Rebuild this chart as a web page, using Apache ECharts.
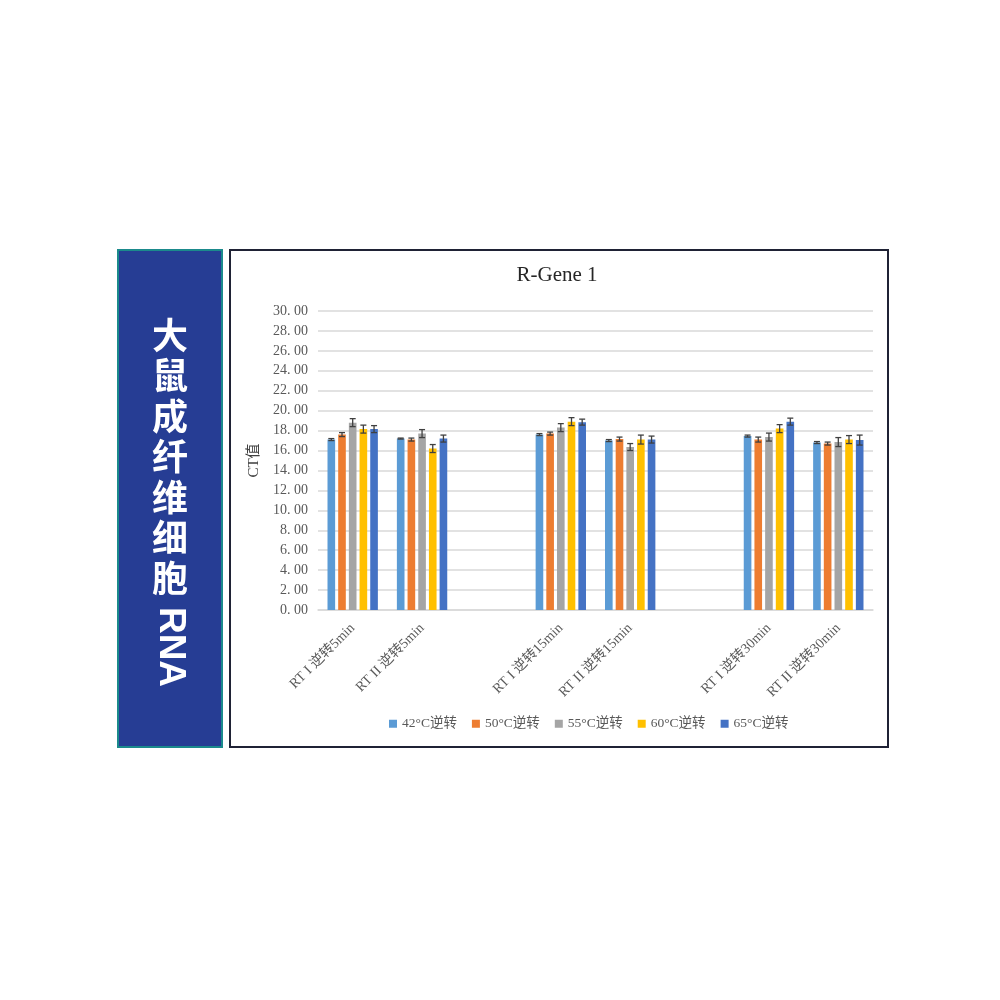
<!DOCTYPE html>
<html>
<head>
<meta charset="utf-8">
<title>R-Gene 1</title>
<script src="https://cdn.jsdelivr.net/npm/echarts@6/dist/echarts.min.js"></script>
<style>
  html, body { margin: 0; padding: 0; background: #fff; }
  #main { width: 1000px; height: 1000px; }
</style>
</head>
<body>
<div id="main"></div>
<script>
// 类别（空字符串用于组间空位）
var categories = ['RT I 逆转5min', 'RT II 逆转5min', '', 'RT I 逆转15min', 'RT II 逆转15min', '', 'RT I 逆转30min', 'RT II 逆转30min'];
var seriesNames = ['42°C逆转', '50°C逆转', '55°C逆转', '60°C逆转', '65°C逆转'];
var colors = ['#5B9BD5', '#ED7D31', '#A5A5A5', '#FFC000', '#4472C4'];

// CT值
var ct42 = [17.10, 17.20, null, 17.60, 17.00, null, 17.45, 16.80];
var ct50 = [17.60, 17.10, null, 17.70, 17.15, null, 17.10, 16.70];
var ct55 = [18.80, 17.70, null, 18.30, 16.35, null, 17.35, 16.85];
var ct60 = [18.15, 16.20, null, 18.90, 17.10, null, 18.20, 17.10];
var ct65 = [18.15, 17.20, null, 18.85, 17.10, null, 18.90, 17.05];

// 误差
var err42 = [0.10, 0.05, null, 0.10, 0.10, null, 0.10, 0.10];
var err50 = [0.20, 0.15, null, 0.15, 0.20, null, 0.25, 0.15];
var err55 = [0.40, 0.40, null, 0.40, 0.35, null, 0.40, 0.45];
var err60 = [0.40, 0.40, null, 0.40, 0.45, null, 0.40, 0.40];
var err65 = [0.35, 0.35, null, 0.30, 0.35, null, 0.35, 0.50];

var yTicks = [0, 2, 4, 6, 8, 10, 12, 14, 16, 18, 20, 22, 24, 26, 28, 30];

var allCt = [ct42, ct50, ct55, ct60, ct65];
var allErr = [err42, err50, err55, err60, err65];

var serifFont = '"Liberation Serif", "Noto Sans CJK SC", serif';
var BAR_W = 0.11;   // 柱宽占类目宽比例
var BAR_GAP = 0.4;  // 柱间距占柱宽比例

// 误差线数据 [类目, 系列序号, 下限, 上限]
var errData = [];
for (var s = 0; s < allCt.length; s++) {
  for (var c = 0; c < categories.length; c++) {
    if (allCt[s][c] == null) continue;
    errData.push([c, s, allCt[s][c] - allErr[s][c], allCt[s][c] + allErr[s][c]]);
  }
}

function renderErr(params, api) {
  var cat = api.value(0);
  var si = api.value(1);
  var lo = api.coord([cat, api.value(2)]);
  var hi = api.coord([cat, api.value(3)]);
  var catW = api.size([1, 0])[0];
  var bw = catW * BAR_W;
  var n = seriesNames.length;
  var total = n * bw + (n - 1) * bw * BAR_GAP;
  var x = lo[0] - total / 2 + bw / 2 + si * bw * (1 + BAR_GAP);
  var cap = 3;
  var style = { stroke: '#404040', lineWidth: 1.3 };
  return {
    type: 'group',
    children: [
      { type: 'line', shape: { x1: x, y1: hi[1], x2: x, y2: lo[1] }, style: style },
      { type: 'line', shape: { x1: x - cap, y1: hi[1], x2: x + cap, y2: hi[1] }, style: style },
      { type: 'line', shape: { x1: x - cap, y1: lo[1], x2: x + cap, y2: lo[1] }, style: style }
    ]
  };
}

var chart = echarts.init(document.getElementById('main'));

var series = [];
for (var i = 0; i < seriesNames.length; i++) {
  series.push({
    name: seriesNames[i],
    type: 'bar',
    data: allCt[i],
    barWidth: (BAR_W * 100) + '%',
    barGap: (BAR_GAP * 100) + '%',
    itemStyle: { color: colors[i] }
  });
}
series.push({
  name: '误差',
  type: 'custom',
  renderItem: renderErr,
  data: errData,
  encode: { x: 0, y: [2, 3] },
  z: 10,
  silent: true
});

var option = {
  animation: false,
  backgroundColor: '#ffffff',
  color: colors,
  graphic: [
    {
      type: 'rect',
      shape: { x: 118, y: 250, width: 104, height: 497 },
      style: { fill: '#263d94', stroke: '#1b8a8c', lineWidth: 2 }
    },
    {
      type: 'text',
      x: 170, y: 315,
      style: {
        text: '大\n鼠\n成\n纤\n维\n细\n胞',
        fill: '#ffffff',
        font: 'bold 36px "Noto Sans CJK SC"',
        lineHeight: 40.5,
        align: 'center',
        verticalAlign: 'top'
      }
    },
    {
      // RNA 竖排，字母顺时针旋转
      type: 'text',
      x: 170, y: 647,
      rotation: -Math.PI / 2,
      style: {
        text: 'RNA',
        fill: '#ffffff',
        font: 'bold 37px "Liberation Sans"',
        align: 'center',
        verticalAlign: 'middle'
      }
    },
    {
      type: 'rect',
      shape: { x: 230, y: 250, width: 658, height: 497 },
      style: { fill: 'transparent', stroke: '#1f2235', lineWidth: 2 },
      z: 1
    },
    {
      type: 'text',
      x: 557, y: 275,
      style: {
        text: 'R-Gene 1',
        fill: '#262626',
        font: '21px "Liberation Serif"',
        align: 'center',
        verticalAlign: 'middle'
      }
    }
  ],
  legend: {
    data: seriesNames,
    left: 384,
    top: 712,
    itemWidth: 8,
    itemHeight: 8,
    itemGap: 15,
    icon: 'rect',
    textStyle: { color: '#595959', fontSize: 13.5, fontFamily: serifFont }
  },
  grid: { left: 318, right: 127, top: 311, bottom: 390 },
  xAxis: {
    type: 'category',
    data: categories,
    axisTick: { show: false },
    axisLine: { lineStyle: { color: '#d9d9d9', width: 1.5 } },
    axisLabel: {
      interval: 0,
      rotate: 45,
      margin: 16,
      color: '#595959',
      fontSize: 14,
      fontFamily: serifFont
    }
  },
  yAxis: {
    type: 'value',
    min: yTicks[0],
    max: yTicks[yTicks.length - 1],
    interval: 2,
    name: 'CT值',
    nameLocation: 'middle',
    nameRotate: 90,
    nameGap: 56,
    nameTextStyle: { color: '#404040', fontSize: 15, fontFamily: serifFont },
    axisLine: { show: false },
    axisTick: { show: false },
    axisLabel: {
      color: '#595959',
      fontSize: 14,
      fontFamily: serifFont,
      margin: 10,
      formatter: function (v) { return v.toFixed(2).replace('.', '. '); }
    },
    splitLine: { lineStyle: { color: '#d9d9d9', width: 1.5 } }
  },
  series: series
};

chart.setOption(option);
</script>
</body>
</html>
